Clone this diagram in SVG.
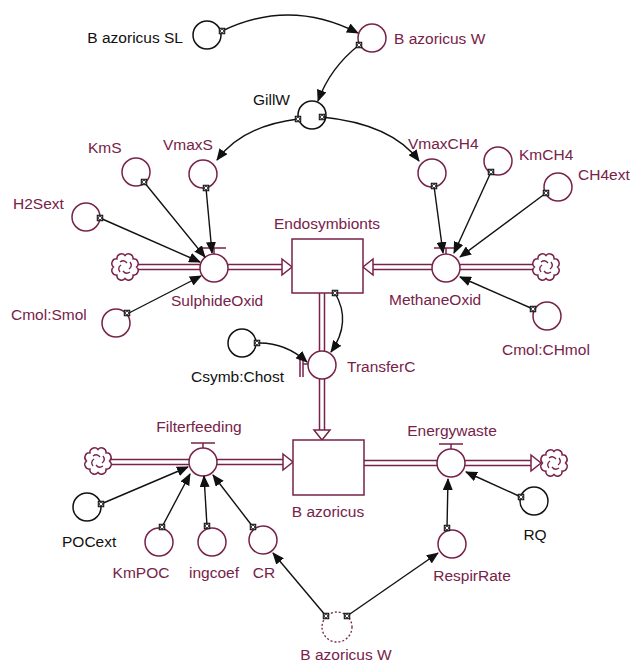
<svg xmlns="http://www.w3.org/2000/svg" width="634" height="664" viewBox="0 0 634 664">
<style>
text{font-family:"Liberation Sans",Arial,sans-serif;font-size:15.5px;}
.m{fill:#772249;}
.k{fill:#111;}
.aux{fill:#fff;stroke:#772249;stroke-width:1.5;}
.auxk{fill:#fff;stroke:#111;stroke-width:1.5;}
.stock{fill:#fff;stroke:#772249;stroke-width:1.5;}
.po{stroke:#772249;stroke-width:6.5;fill:none;}
.pi{stroke:#fff;stroke-width:3.5;fill:none;}
.fa{fill:#fff;stroke:#772249;stroke-width:1.5;}
.valve{fill:none;stroke:#772249;stroke-width:1.5;}
.cn{fill:none;stroke:#111;stroke-width:1.4;marker-end:url(#ah);}
.cloud{fill:#fff;stroke:#772249;stroke-width:1.5;}
.sw{fill:none;stroke:#772249;stroke-width:1.3;}
</style>
<defs>
<marker id="ah" markerWidth="12" markerHeight="10" refX="11" refY="5" orient="auto" markerUnits="userSpaceOnUse"><path d="M0,0 L12,5 L0,10 z" fill="#111"/></marker>
<g id="cl">
<path class="cloud" d="M11.5,0 A4.6,4.6 0 0 1 8.1,8.1 A4.6,4.6 0 0 1 0,11.5 A4.6,4.6 0 0 1 -8.1,8.1 A4.6,4.6 0 0 1 -11.5,0 A4.6,4.6 0 0 1 -8.1,-8.1 A4.6,4.6 0 0 1 0,-11.5 A4.6,4.6 0 0 1 8.1,-8.1 A4.6,4.6 0 0 1 11.5,0 z"/>
<path class="sw" d="M-5,-5 Q-1,-8 2,-4 M5,-5 Q8,-1 4,2 M5,5 Q1,8 -2,4 M-5,5 Q-8,1 -4,-2"/>
</g>
<g id="dot"><rect x="-2.7" y="-2.7" width="5.4" height="5.4" fill="#fff" stroke="#111" stroke-width="1.1"/><circle r="1.8" fill="none" stroke="#111" stroke-width="0.9"/></g>
</defs>

<g id="flows">
<path class="po" d="M138,267 H200 M228,267 H283 M533,267 H460 M432,267 H372 M322,293 V351 M322,379 V431 M111,462 H189 M217,462 H284 M364,463 H437 M465,463 H532"/>
<path class="pi" d="M136,267 H202 M226,267 H285 M535,267 H458 M434,267 H370 M322,291 V353 M322,377 V433 M109,462 H191 M215,462 H286 M362,463 H439 M463,463 H534"/>
<polygon class="fa" points="282,259 292,267 282,275"/>
<polygon class="fa" points="373,259 363,267 373,275"/>
<polygon class="fa" points="314,430 322,440 330,430"/>
<polygon class="fa" points="283,454 293,462 283,470"/>
<polygon class="fa" points="531,455 541,463 531,471"/>
</g>

<g id="clouds">
<use href="#cl" x="125" y="267"/>
<use href="#cl" x="546" y="267"/>
<use href="#cl" x="98" y="461"/>
<use href="#cl" x="554" y="463"/>
</g>

<g id="Endosymbionts"><rect class="stock" x="292" y="239" width="71" height="54"/><text class="m" x="327" y="229" text-anchor="middle">Endosymbionts</text></g>
<g id="Bazoricus"><rect class="stock" x="293" y="440" width="71" height="55"/><text class="m" x="328" y="517" text-anchor="middle">B azoricus</text></g>

<g id="BazoricusSL"><circle class="auxk" cx="207" cy="35" r="14"/><text class="k" x="183" y="43" text-anchor="end">B azoricus SL</text></g>
<g id="BazoricusW"><circle class="aux" cx="372" cy="38" r="14"/><text class="m" x="394" y="44">B azoricus W</text></g>
<g id="GillW"><circle class="auxk" cx="312" cy="115" r="14"/><text class="k" x="290" y="105" text-anchor="end">GillW</text></g>
<g id="KmS"><circle class="aux" cx="136" cy="172" r="14"/><text class="m" x="88" y="153">KmS</text></g>
<g id="VmaxS"><circle class="aux" cx="203" cy="174" r="14"/><text class="m" x="163" y="150">VmaxS</text></g>
<g id="H2Sext"><circle class="aux" cx="86" cy="217" r="14"/><text class="m" x="13" y="209">H2Sext</text></g>
<g id="CmolSmol"><circle class="aux" cx="116" cy="323" r="14"/><text class="m" x="11" y="320">Cmol:Smol</text></g>
<g id="SulphideOxid"><circle class="aux" cx="214" cy="268" r="14"/><path class="valve" d="M202,248 H226 M214,248 V254"/><text class="m" x="171" y="306">SulphideOxid</text></g>
<g id="VmaxCH4"><circle class="aux" cx="432" cy="173" r="14"/><text class="m" x="408" y="149">VmaxCH4</text></g>
<g id="KmCH4"><circle class="aux" cx="498" cy="161" r="14"/><text class="m" x="519" y="160">KmCH4</text></g>
<g id="CH4ext"><circle class="aux" cx="558" cy="187" r="14"/><text class="m" x="578" y="180">CH4ext</text></g>
<g id="CmolCHmol"><circle class="aux" cx="547" cy="316" r="14"/><text class="m" x="502" y="355">Cmol:CHmol</text></g>
<g id="MethaneOxid"><circle class="aux" cx="446" cy="268" r="14"/><path class="valve" d="M434,248 H458 M446,248 V254"/><text class="m" x="389" y="305">MethaneOxid</text></g>
<g id="CsymbChost"><circle class="auxk" cx="242" cy="343" r="14"/><text class="k" x="284" y="382" text-anchor="end">Csymb:Chost</text></g>
<g id="TransferC"><circle class="aux" cx="322" cy="365" r="14"/><path class="valve" d="M300,355 V377 M303,355 V377 M300,355 H303 M303,364 H308"/><text class="m" x="347" y="372">TransferC</text></g>
<g id="Filterfeeding"><circle class="aux" cx="203" cy="462" r="14"/><path class="valve" d="M191,443 H215 M203,443 V448"/><text class="m" x="199" y="432" text-anchor="middle">Filterfeeding</text></g>
<g id="Energywaste"><circle class="aux" cx="451" cy="463" r="14"/><path class="valve" d="M439,444 H463 M451,444 V449"/><text class="m" x="452" y="436" text-anchor="middle">Energywaste</text></g>
<g id="POCext"><circle class="auxk" cx="87" cy="507" r="14"/><text class="k" x="62" y="547">POCext</text></g>
<g id="KmPOC"><circle class="aux" cx="159" cy="542" r="14"/><text class="m" x="141" y="578" text-anchor="middle">KmPOC</text></g>
<g id="ingcoef"><circle class="aux" cx="212" cy="542" r="14"/><text class="m" x="214" y="578" text-anchor="middle">ingcoef</text></g>
<g id="CR"><circle class="aux" cx="263" cy="540" r="14"/><text class="m" x="264" y="578" text-anchor="middle">CR</text></g>
<g id="RQ"><circle class="auxk" cx="534" cy="501" r="14"/><text class="k" x="535" y="540" text-anchor="middle">RQ</text></g>
<g id="RespirRate"><circle class="aux" cx="452" cy="544" r="14"/><text class="m" x="472" y="581" text-anchor="middle">RespirRate</text></g>
<g id="BazoricusWghost"><circle cx="337" cy="627" r="15" fill="#fff" stroke="#772249" stroke-width="1.3" stroke-dasharray="2,2"/><text class="m" x="346" y="660" text-anchor="middle">B azoricus W</text></g>

<g id="connectors">
<path class="cn" d="M222,31 Q290,-2 358,33"/>
<path class="cn" d="M359,45 Q330,68 318,101"/>
<path class="cn" d="M298,119 Q242,126 217,160"/>
<path class="cn" d="M322,117 Q392,124 419,161"/>
<path class="cn" d="M144,182 L205,257"/>
<path class="cn" d="M100,218 L200,262"/>
<path class="cn" d="M206,188 L212,253"/>
<path class="cn" d="M127,314 L201,276"/>
<path class="cn" d="M434,186 L443,253"/>
<path class="cn" d="M491,172 L454,253"/>
<path class="cn" d="M546,193 L460,257"/>
<path class="cn" d="M533,309 L460,277"/>
<path class="cn" d="M335,293 Q352,322 331,352"/>
<path class="cn" d="M257,343 Q285,342 307,362"/>
<path class="cn" d="M101,504 L188,467"/>
<path class="cn" d="M162,527 L190,474"/>
<path class="cn" d="M207,526 L204,476"/>
<path class="cn" d="M253,527 L213,475"/>
<path class="cn" d="M447,528 L448,479"/>
<path class="cn" d="M521,497 L466,472"/>
<path class="cn" d="M326,616 L273,553"/>
<path class="cn" d="M347,616 L438,553"/>
</g>
<g id="dots">
<use href="#dot" x="222" y="31"/><use href="#dot" x="359" y="45"/>
<use href="#dot" x="298" y="119"/><use href="#dot" x="322" y="117"/>
<use href="#dot" x="144" y="182"/><use href="#dot" x="100" y="218"/><use href="#dot" x="206" y="188"/><use href="#dot" x="127" y="313"/>
<use href="#dot" x="434" y="186"/><use href="#dot" x="491" y="172"/><use href="#dot" x="546" y="193"/><use href="#dot" x="533" y="309"/>
<use href="#dot" x="335" y="293"/><use href="#dot" x="257" y="343"/>
<use href="#dot" x="101" y="504"/><use href="#dot" x="162" y="527"/><use href="#dot" x="207" y="526"/><use href="#dot" x="253" y="527"/>
<use href="#dot" x="447" y="528"/><use href="#dot" x="521" y="497"/>
<use href="#dot" x="326" y="616"/><use href="#dot" x="347" y="616"/>
</g>
</svg>
